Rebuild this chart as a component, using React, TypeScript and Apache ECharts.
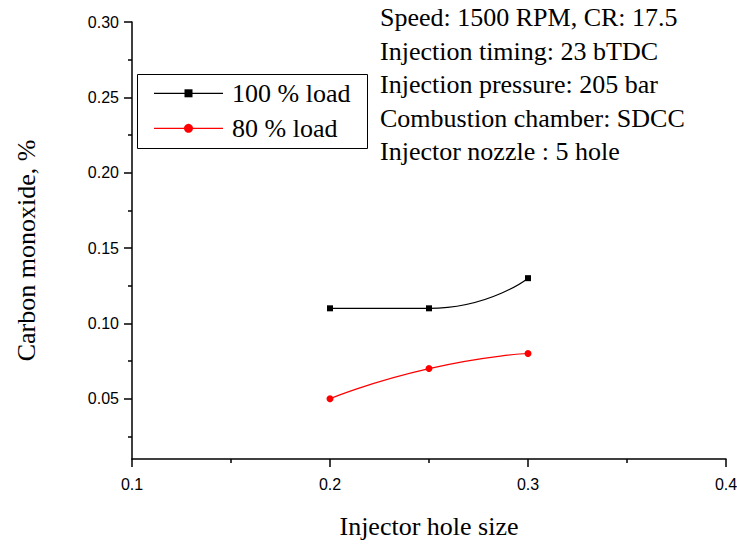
import React, { useEffect, useRef } from "react";
import * as echarts from "echarts";

// Injector hole size (mm) on the x axis
const holeSizes = [0.2, 0.25, 0.3];
// Carbon monoxide (%) per load
const coFullLoad = [0.11, 0.11, 0.13];
const coEightyLoad = [0.05, 0.07, 0.08];

const seriesNames = ["100 % load", "80 % load"];
const seriesColors = ["#000000", "#ff0000"];
const seriesSymbols = ["rect", "circle"];

const yMajorTicks = [0.05, 0.1, 0.15, 0.2, 0.25, 0.3];
const yMinorTicks = [0.025, 0.075, 0.125, 0.175, 0.225, 0.275];

const conditions = [
  "Speed: 1500 RPM, CR: 17.5",
  "Injection timing: 23 bTDC",
  "Injection pressure: 205 bar",
  "Combustion chamber: SDCC",
  "Injector nozzle : 5 hole",
];

const SERIF = "Liberation Serif";
const SANS = "Liberation Sans";

// Boxed key in the upper left of the plot: a line with its marker and the series name
function legendBox() {
  const left = 137;
  const top = 74;
  const rowGap = 35;
  const firstRow = 19.3;
  const lineStart = 17;
  const lineLen = 69;
  const children: any[] = [
    {
      type: "rect",
      shape: { x: left + 0.5, y: top + 0.5, width: 230, height: 74 },
      style: { fill: "#fff", stroke: "#000", lineWidth: 1 },
    },
  ];
  seriesNames.forEach((name, i) => {
    const cy = top + firstRow + rowGap * i;
    const x0 = left + lineStart;
    const cx = x0 + lineLen / 2;
    const color = seriesColors[i];
    children.push({
      type: "line",
      shape: { x1: x0, y1: cy, x2: x0 + lineLen, y2: cy },
      style: { stroke: color, lineWidth: 1.2 },
    });
    if (seriesSymbols[i] === "rect") {
      children.push({
        type: "rect",
        shape: { x: cx - 4, y: cy - 4, width: 8, height: 8 },
        style: { fill: color },
      });
    } else {
      children.push({
        type: "circle",
        shape: { cx, cy, r: 4.5 },
        style: { fill: color },
      });
    }
    children.push({
      type: "text",
      x: x0 + lineLen + 9,
      y: cy,
      style: {
        text: name,
        fontFamily: SERIF,
        fontSize: 26,
        fill: "#000",
        verticalAlign: "middle",
        align: "left",
      },
    });
  });
  return { type: "group", children };
}

export default function App() {
  const ref = useRef<HTMLDivElement>(null);

  useEffect(() => {
    document.body.style.margin = "0";
    if (!ref.current) return;
    const chart = echarts.init(ref.current, null, { renderer: "svg" });

    const pairs = (ys: number[]) => holeSizes.map((x, i) => [x, ys[i]]);

    const axisLineStyle = { color: "#000", width: 1.5 };

    chart.setOption({
      animation: false,
      backgroundColor: "#fff",
      textStyle: { fontFamily: SERIF },
      grid: {
        left: 132,
        right: 11,
        top: 22,
        bottom: 85,
        containLabel: false,
        outerBoundsMode: "none",
      },
      xAxis: {
        type: "value",
        min: 0.1,
        max: 0.4,
        interval: 0.1,
        name: "Injector hole size",
        nameLocation: "middle",
        nameGap: 54,
        nameTextStyle: { fontFamily: SERIF, fontSize: 26, color: "#000" },
        axisLine: { show: true, lineStyle: axisLineStyle },
        axisTick: { show: true, length: 8, lineStyle: axisLineStyle },
        minorTick: { show: true, splitNumber: 2, length: 4, lineStyle: axisLineStyle },
        splitLine: { show: false },
        axisLabel: {
          margin: 17,
          fontFamily: SANS,
          fontSize: 16,
          color: "#000",
          formatter: (v: number) => v.toFixed(1),
        },
      },
      yAxis: [
        {
          type: "value",
          min: 0.01,
          max: 0.3,
          name: "Carbon monoxide, %",
          nameLocation: "middle",
          nameGap: 93,
          nameTextStyle: {
            fontFamily: SERIF,
            fontSize: 26,
            color: "#000",
            padding: [0, 20, 0, 0],
          },
          axisLine: { show: true, lineStyle: axisLineStyle },
          axisTick: {
            show: true,
            length: 8,
            lineStyle: axisLineStyle,
            customValues: yMajorTicks,
          },
          splitLine: { show: false },
          axisLabel: {
            margin: 13,
            fontFamily: SANS,
            fontSize: 16,
            color: "#000",
            customValues: yMajorTicks,
            formatter: (v: number) => v.toFixed(2),
          },
        },
        {
          type: "value",
          position: "left",
          min: 0.01,
          max: 0.3,
          axisLine: { show: false },
          axisTick: {
            show: true,
            length: 4,
            lineStyle: axisLineStyle,
            customValues: yMinorTicks,
          },
          axisLabel: { show: false },
          splitLine: { show: false },
        },
      ],
      graphic: [
        {
          type: "text",
          left: 380,
          top: 1,
          style: {
            text: conditions.join("\n"),
            fontFamily: SERIF,
            fontSize: 26,
            lineHeight: 33.5,
            fill: "#000",
          },
        },
        legendBox(),
      ],
      series: [
        {
          name: seriesNames[0],
          type: "line",
          data: pairs(coFullLoad),
          smooth: 0.6,
          symbol: seriesSymbols[0],
          symbolSize: 6,
          lineStyle: { color: seriesColors[0], width: 1.2 },
          itemStyle: { color: seriesColors[0] },
        },
        {
          name: seriesNames[1],
          type: "line",
          data: pairs(coEightyLoad),
          smooth: 0.6,
          symbol: seriesSymbols[1],
          symbolSize: 7,
          lineStyle: { color: seriesColors[1], width: 1.2 },
          itemStyle: { color: seriesColors[1] },
        },
      ],
    });

    return () => chart.dispose();
  }, []);

  return <div ref={ref} style={{ width: 737, height: 544 }} />;
}
